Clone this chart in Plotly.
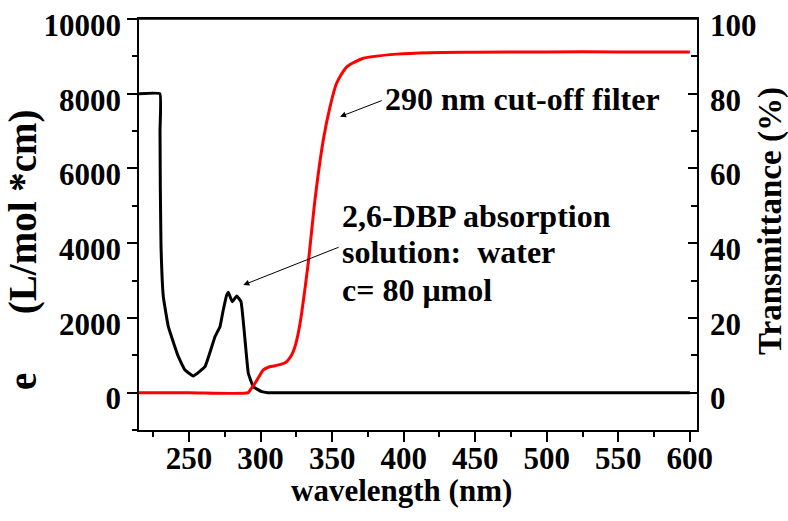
import plotly.graph_objects as go

# Absorption spectrum of 2,6-DBP (left axis, e in L/mol*cm)
wl_abs = [215, 229.6, 229.7, 229.9, 230.4, 232.0, 235.5, 242.5, 247.1, 252.9, 261.1, 268.1,
          271.6, 273.9, 276.3, 277.4, 280.2, 283.3, 286.3, 289.1, 291.4, 294.9,
          300.8, 305, 350, 400, 450, 500, 550, 600]
eps_abs = [8000, 8000, 7000, 5500, 3906, 2568, 1765, 962, 606, 446, 694, 1497,
           1765, 2212, 2613, 2685, 2434, 2587, 2434, 1409, 518, 159,
           25, 0, 0, 0, 0, 0, 0, 0]

# Transmittance of the 290 nm cut-off filter (right axis, %)
wl_tr = [215, 250, 291.4, 292.7, 296.1, 298.9, 301.9, 305.4, 310.1, 317.1, 321.7,
         324.0, 326.3, 328.7, 333.3, 338.0, 343.8, 348.5, 353.1, 360.2, 371.8,
         395.1, 418.4, 450, 500, 550, 600]
tr_val = [0, 0, 0, 0.7, 2.5, 4.3, 6.1, 6.8, 7.2, 8.0, 10.1,
          12.3, 15.9, 21.3, 34.7, 51.6, 67.6, 76.5, 82.8, 87.2, 89.5,
          90.6, 91.0, 91.1, 91.2, 91.2, 91.2]

x_ticks = [250, 300, 350, 400, 450, 500, 550, 600]
x_ticktext = ["250", "300", "350", "400", "450", "500", "550", "600"]
y_left_ticks = [0, 2000, 4000, 6000, 8000, 10000]
y_left_ticktext = ["0", "2000", "4000", "6000", "8000", "10000"]
y_right_ticks = [0, 20, 40, 60, 80, 100]
y_right_ticktext = ["0", "20", "40", "60", "80", "100"]

FONT = "Liberation Serif"
tickfont = dict(family=FONT, size=31, color="black", weight="bold")

fig = go.Figure()
fig.add_trace(go.Scatter(x=wl_abs, y=eps_abs, mode="lines",
                         line=dict(color="black", width=3, shape="spline", smoothing=0.3),
                         yaxis="y"))
fig.add_trace(go.Scatter(x=wl_tr, y=tr_val, mode="lines",
                         line=dict(color="#ff0000", width=3, shape="spline", smoothing=0.6),
                         yaxis="y2"))

L, R, T, B = 139, 91, 19, 91
W, H = 788, 521
PW, PH = W - L - R, H - T - B


def px(xp):
    return (xp - L) / PW


def py(yp):
    return (H - B - yp) / PH


fig.update_layout(
    width=W, height=H,
    margin=dict(l=L, r=R, t=T, b=B, autoexpand=False),
    plot_bgcolor="white", paper_bgcolor="white",
    showlegend=False,
    xaxis=dict(range=[215, 605], tickvals=x_ticks, ticktext=x_ticktext, ticks="outside",
               ticklen=10, tickwidth=1.5, tickcolor="black", showline=True,
               linecolor="black", linewidth=1.5, mirror=True, showgrid=False,
               zeroline=False, automargin=False,
               tickfont=tickfont, ticklabelstandoff=-10, ticklabeloverflow="allow",
               minor=dict(dtick=25, tick0=0, ticks="outside", ticklen=5,
                          tickwidth=1.5, tickcolor="black", showgrid=False)),
    yaxis=dict(range=[-1000, 10000], tickvals=y_left_ticks, ticktext=y_left_ticktext,
               ticks="outside", ticklen=10, tickwidth=1.5, tickcolor="black",
               showline=True, linecolor="black", linewidth=1.5, showgrid=False,
               zeroline=False, automargin=False,
               tickfont=tickfont, ticklabelstandoff=0, ticklabelshift=6,
               ticklabeloverflow="allow",
               minor=dict(dtick=1000, tick0=0, ticks="outside", ticklen=5,
                          tickwidth=1.5, tickcolor="black", showgrid=False)),
    yaxis2=dict(range=[-10, 100], tickvals=y_right_ticks, ticktext=y_right_ticktext,
                overlaying="y", side="right", ticks="inside", ticklen=9,
                tickwidth=1.5, tickcolor="black", showline=True, linecolor="black",
                linewidth=1.5, showgrid=False, zeroline=False, automargin=False,
                tickfont=tickfont, ticklabelstandoff=5, ticklabelshift=6,
                ticklabeloverflow="allow",
                minor=dict(dtick=10, tick0=0, ticks="inside", ticklen=6,
                           tickwidth=1.5, tickcolor="black", showgrid=False)),
    shapes=[dict(type="line", xref="paper", yref="paper", x0=0, x1=1, y0=1, y1=1,
                 line=dict(color="black", width=1.5))],
)

textfont = dict(family=FONT, size=32, color="black", weight="bold")

annotations = [
    # axis titles
    dict(text="wavelength (nm)", x=px(401), y=py(490), xref="paper", yref="paper",
         showarrow=False, font=dict(family=FONT, size=31, color="black", weight="bold"),
         xanchor="center", yanchor="middle"),
    dict(text="e      (L/mol *cm)", x=px(23), y=py(250), xref="paper", yref="paper",
         showarrow=False, font=dict(family=FONT, size=39, color="black", weight="bold"),
         textangle=-90, xanchor="center", yanchor="middle"),
    dict(text="Transmittance (%)", x=px(771), y=py(221), xref="paper", yref="paper",
         showarrow=False, font=dict(family=FONT, size=33, color="black", weight="bold"),
         textangle=-90, xanchor="center", yanchor="middle"),
    # in-plot labels
    dict(text="290 nm cut-off filter", x=px(383), y=py(99), xref="paper", yref="paper",
         showarrow=False, font=textfont, xanchor="left", yanchor="middle"),
    dict(text="2,6-DBP absorption", x=px(340), y=py(216), xref="paper", yref="paper",
         showarrow=False, font=textfont, xanchor="left", yanchor="middle"),
    dict(text="solution:  water", x=px(340), y=py(252), xref="paper", yref="paper",
         showarrow=False, font=textfont, xanchor="left", yanchor="middle"),
    dict(text="c= 80 \u03bcmol", x=px(340), y=py(290), xref="paper", yref="paper",
         showarrow=False, font=textfont, xanchor="left", yanchor="middle"),
    # arrows
    dict(x=355.5, y=7385, ax=385.7, ay=7832, xref="x", yref="y", axref="x", ayref="y",
         showarrow=True, arrowhead=2, arrowsize=1.2, arrowwidth=1, arrowcolor="black", text=""),
    dict(x=287.9, y=2881, ax=355.5, ay=3906, xref="x", yref="y", axref="x", ayref="y",
         showarrow=True, arrowhead=2, arrowsize=1.2, arrowwidth=1, arrowcolor="black", text=""),
]
fig.update_layout(annotations=annotations)

fig.write_html("out.html")
